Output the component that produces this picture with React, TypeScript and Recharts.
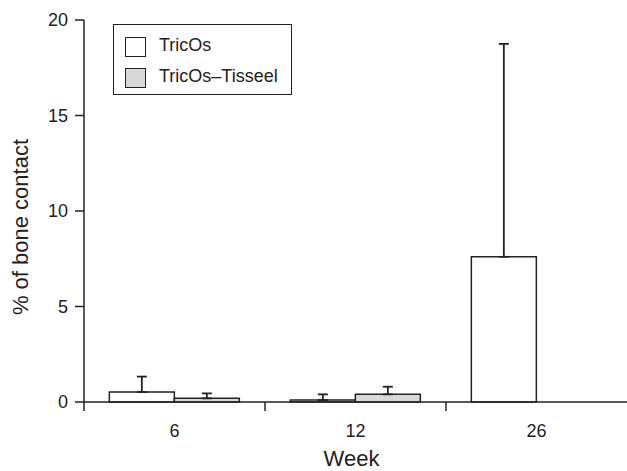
import React from "react";
import {
  Bar,
  BarChart,
  ErrorBar,
  Label,
  Legend,
  XAxis,
  YAxis,
} from "recharts";

// Bone contact per group, weeks 6 / 12 / 26 (mean + upward SD whisker).
const WEEKS = ["6", "12", "26"];
const TRICOS = [0.52, 0.1, 7.6];
const TRICOS_SD = [0.81, 0.3, 11.15];
const TISSEEL = [0.19, 0.4, 0];
const TISSEEL_SD = [0.26, 0.4, 0];
const Y_TICKS = [0, 5, 10, 15, 20];

const W = 627;
const H = 471;
const Y_AXIS_W = 84;
const INK = "#222";
const FONT = '"Liberation Sans", Arial, Helvetica, sans-serif';

// Width of one week's band, so tick marks can sit on band boundaries.
const BAND = (W - Y_AXIS_W) / WEEKS.length;

const data = WEEKS.map((week, i) => ({
  week,
  tricos: TRICOS[i],
  tricosErr: [0, TRICOS_SD[i]],
  tisseel: TISSEEL[i],
  tisseelErr: [0, TISSEEL_SD[i]],
}));

// Label at band centre, tick mark at the band's left edge.
function WeekTick(props: any) {
  const { x, y, payload } = props;
  const edge = x - BAND / 2;
  return (
    <g>
      <line x1={edge} x2={edge} y1={y - 9} y2={y} stroke={INK} strokeWidth={1.5} />
      <text x={x} y={y + 26} textAnchor="middle" fontSize={18} fill={INK} fontFamily={FONT}>
        {payload.value}
      </text>
    </g>
  );
}

function LegendBox(props: any) {
  const items = (props.payload ?? []) as Array<{ value: string; color: string }>;
  return (
    <div
      style={{
        boxSizing: "border-box",
        width: 179,
        height: 71,
        border: `1.5px solid ${INK}`,
        background: "#fff",
        padding: "6px 10px 2px 11px",
        fontFamily: FONT,
        fontSize: 18,
        color: INK,
      }}
    >
      {items.map((it) => (
        <div key={it.value} style={{ display: "flex", alignItems: "center", height: 31 }}>
          <span
            style={{
              boxSizing: "border-box",
              display: "inline-block",
              width: 21,
              height: 20,
              border: `1.5px solid ${INK}`,
              background: it.color,
              marginRight: 13,
            }}
          />
          <span style={{ lineHeight: "20px", marginTop: -4 }}>{it.value}</span>
        </div>
      ))}
    </div>
  );
}

function YTitle(props: any) {
  const vb = props.viewBox ?? { x: 0, y: 0, width: 0, height: 0 };
  const cx = vb.x + 20;
  const cy = vb.y + vb.height / 2 + 16;
  return (
    <text
      x={cx}
      y={cy}
      transform={`rotate(-90 ${cx} ${cy})`}
      textAnchor="middle"
      dominantBaseline="central"
      fontSize={22}
      fill={INK}
      fontFamily={FONT}
    >
      % of bone contact
    </text>
  );
}

function XTitle(props: any) {
  const vb = props.viewBox ?? { x: 0, y: 0, width: 0, height: 0 };
  return (
    <text
      x={vb.x + vb.width / 2 - 4}
      y={vb.y + vb.height - 5}
      textAnchor="middle"
      fontSize={22}
      fill={INK}
      fontFamily={FONT}
    >
      Week
    </text>
  );
}

export default function App() {
  return (
    <div style={{ position: "absolute", left: 0, top: 0, width: W, height: H, background: "#fff" }}>
      <BarChart
        width={W}
        height={H}
        data={data}
        margin={{ top: 20, right: 0, left: 0, bottom: 0 }}
        barCategoryGap="14%"
        barGap={0}
      >
        <XAxis
          dataKey="week"
          interval={0}
          height={69}
          tickSize={9}
          tickMargin={0}
          tickLine={false}
          axisLine={{ stroke: INK, strokeWidth: 1.5 }}
          tick={<WeekTick />}
        >
          <Label content={<XTitle />} />
        </XAxis>
        <YAxis
          domain={[0, 20]}
          ticks={Y_TICKS}
          width={Y_AXIS_W}
          tickSize={9}
          tickMargin={7}
          axisLine={{ stroke: INK, strokeWidth: 1.5 }}
          tickLine={{ stroke: INK, strokeWidth: 1.5 }}
          tick={{ fill: INK, fontSize: 18, fontFamily: FONT }}
        >
          <Label content={<YTitle />} />
        </YAxis>
        <Legend
          layout="horizontal"
          verticalAlign="middle"
          align="center"
          wrapperStyle={{ left: 113, top: 24, width: "auto", height: "auto" }}
          content={<LegendBox />}
        />
        <Bar
          dataKey="tricos"
          name="TricOs"
          fill="#ffffff"
          stroke={INK}
          strokeWidth={1.5}
          isAnimationActive={false}
        >
          <ErrorBar dataKey="tricosErr" direction="y" width={5} stroke={INK} strokeWidth={1.8} />
        </Bar>
        <Bar
          dataKey="tisseel"
          name="TricOs–Tisseel"
          fill="#d9d9d9"
          stroke={INK}
          strokeWidth={1.5}
          isAnimationActive={false}
        >
          <ErrorBar dataKey="tisseelErr" direction="y" width={5} stroke={INK} strokeWidth={1.8} />
        </Bar>
      </BarChart>
    </div>
  );
}
